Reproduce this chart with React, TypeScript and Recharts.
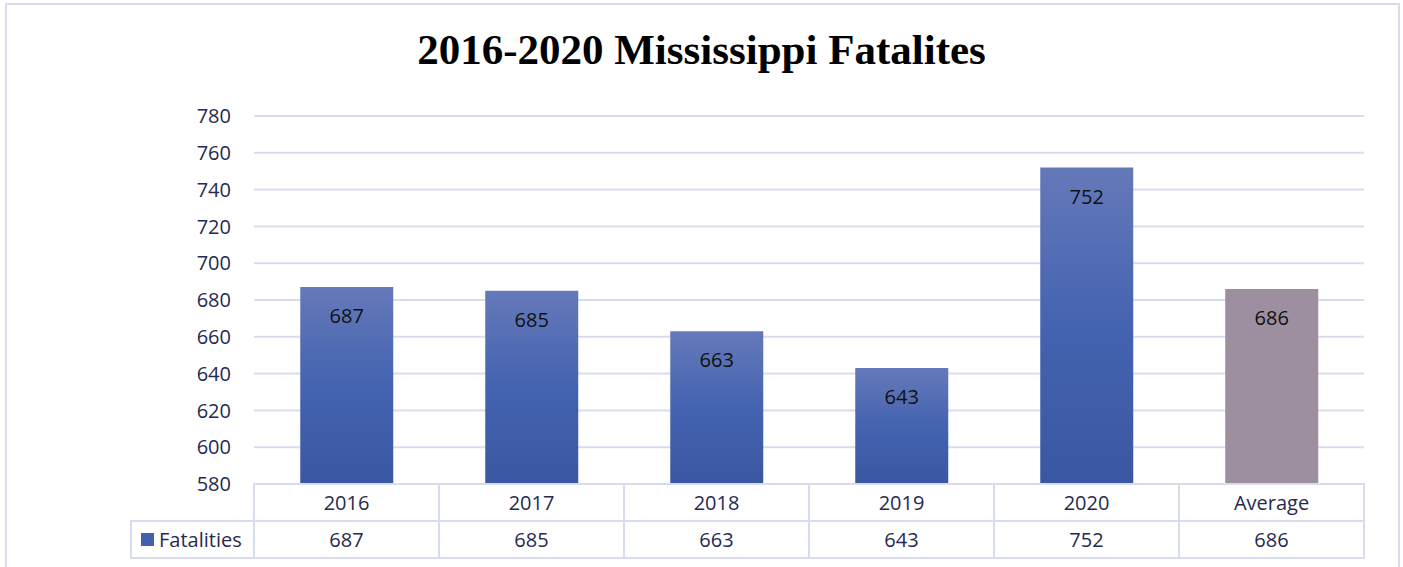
import React from 'react';
import { BarChart, Bar, XAxis, YAxis, CartesianGrid, Cell, LabelList } from 'recharts';

const categories = ['2016', '2017', '2018', '2019', '2020', 'Average'];
const fatalities = [687, 685, 663, 643, 752, 686];
const yTicks = [580, 600, 620, 640, 660, 680, 700, 720, 740, 760, 780];
const seriesName = 'Fatalities';

const data = categories.map((c, i) => ({ name: c, value: fatalities[i] }));

const W = 1403;
const H = 567;
const ML = 0;
const MR = 39;
const YW = 254;
const band = (W - ML - MR - YW) / categories.length;
const rowH = 37;
const lineCol = '#d9dbef';
const textCol = '#262a50';
const font = 'Open Sans, sans-serif';

const TableTick = (props: any) => {
  const { x, y, payload, index } = props;
  const left = x - band / 2;
  return (
    <g>
      <rect x={left} y={y} width={band} height={rowH} fill="none" stroke={lineCol} strokeWidth={2} />
      <rect x={left} y={y + rowH} width={band} height={rowH} fill="none" stroke={lineCol} strokeWidth={2} />
      <text x={x} y={y + rowH / 2 + 7} textAnchor="middle" fontSize={20} fill={textCol} fontFamily={font}>
        {payload.value}
      </text>
      <text x={x} y={y + rowH * 1.5 + 7} textAnchor="middle" fontSize={20} fill={textCol} fontFamily={font}>
        {fatalities[index]}
      </text>
      {index === 0 && (
        <g>
          <rect x={131} y={y + rowH} width={left - 131} height={rowH} fill="none" stroke={lineCol} strokeWidth={2} />
          <rect x={141} y={y + rowH + 12} width={13} height={13} fill="#4461ad" />
          <text x={159} y={y + rowH * 1.5 + 7} fontSize={20} fill={textCol} fontFamily={font}>
            {seriesName}
          </text>
        </g>
      )}
    </g>
  );
};

export default function App() {
  return (
    <div style={{ position: 'absolute', left: 0, top: 0, width: W, height: H, overflow: 'hidden', background: '#fff' }}>
      <div
        style={{
          position: 'absolute',
          left: 5,
          top: 3,
          width: 1395,
          height: 700,
          border: `2px solid ${lineCol}`,
          boxSizing: 'border-box',
        }}
      />
      <div
        style={{
          position: 'absolute',
          left: 0,
          top: 25,
          width: W,
          textAlign: 'center',
          fontFamily: 'Liberation Serif, serif',
          fontWeight: 'bold',
          fontSize: 43,
          color: '#000',
        }}
      >
        2016-2020 Mississippi Fatalites
      </div>
      <div style={{ position: 'absolute', left: 0, top: 0 }}>
        <BarChart width={W} height={H} data={data} margin={{ top: 116, right: MR, left: ML, bottom: 0 }} barCategoryGap="25%">
          <defs>
            <linearGradient id="blueGrad" x1="0" y1="0" x2="0" y2="1">
              <stop offset="0%" stopColor="#6579b9" />
              <stop offset="50%" stopColor="#4463b0" />
              <stop offset="100%" stopColor="#3a57a1" />
            </linearGradient>
          </defs>
          <CartesianGrid vertical={false} stroke={lineCol} strokeWidth={2} />
          <XAxis
            dataKey="name"
            height={83}
            axisLine={false}
            tickLine={false}
            tickSize={0}
            tickMargin={0}
            interval={0}
            tick={<TableTick />}
          />
          <YAxis
            width={YW}
            domain={[580, 780]}
            ticks={yTicks}
            axisLine={false}
            tickLine={false}
            tickMargin={17}
            tick={{ fontSize: 20, fill: textCol, fontFamily: font }}
          />
          <Bar dataKey="value" isAnimationActive={false}>
            {data.map((d, i) => (
              <Cell key={d.name} fill={d.name === 'Average' ? '#9d8f9f' : 'url(#blueGrad)'} />
            ))}
            <LabelList dataKey="value" position="insideTop" offset={22} fill="#111" fontSize={20} fontFamily={font} />
          </Bar>
        </BarChart>
      </div>
    </div>
  );
}
